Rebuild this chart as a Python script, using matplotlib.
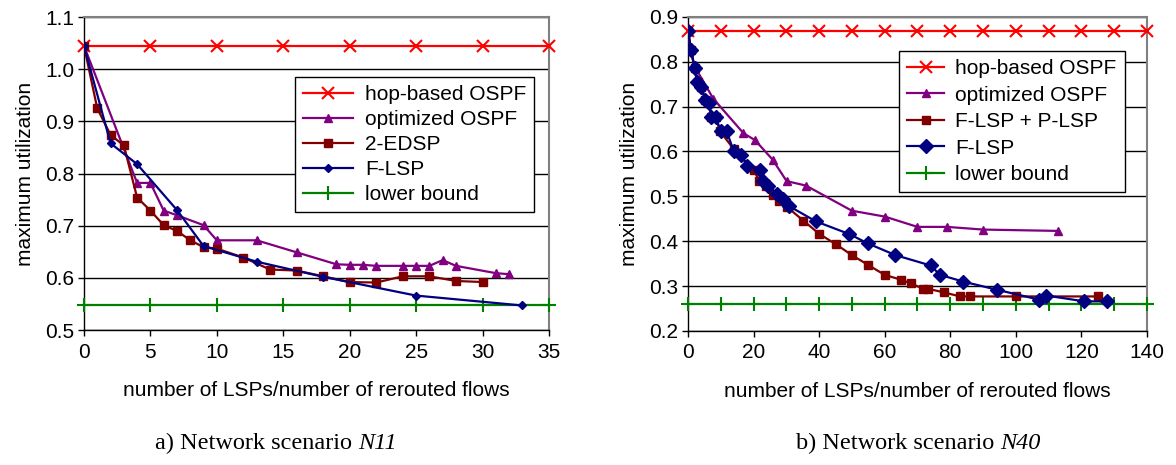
import matplotlib
matplotlib.use("Agg")
import matplotlib.pyplot as plt
import numpy as np

plt.rcParams["font.family"] = ["Liberation Sans", "DejaVu Sans"]

# ---- scenario N11 ----
hop_x_a = [0, 5, 10, 15, 20, 25, 30, 35]
hop_y_a = [1.045] * 8
opt_x_a = [0, 4, 5, 6, 7, 9, 10, 13, 16, 19, 20, 21, 22, 24, 25, 26, 27, 28, 31, 32]
opt_y_a = [1.045, 0.782, 0.782, 0.729, 0.720, 0.701, 0.672, 0.672, 0.649, 0.626,
           0.625, 0.625, 0.623, 0.623, 0.623, 0.623, 0.634, 0.623, 0.609, 0.607]
edsp_x_a = [0, 1, 2, 3, 4, 5, 6, 7, 8, 9, 10, 12, 14, 16, 18, 20, 22, 24, 26, 28, 30]
edsp_y_a = [1.045, 0.925, 0.874, 0.854, 0.754, 0.729, 0.701, 0.690, 0.672, 0.659,
            0.656, 0.639, 0.616, 0.614, 0.603, 0.592, 0.591, 0.603, 0.603, 0.594, 0.592]
flsp_x_a = [0, 2, 4, 7, 9, 13, 18, 25, 33]
flsp_y_a = [1.045, 0.858, 0.818, 0.730, 0.661, 0.631, 0.602, 0.566, 0.547]
low_x_a = [0, 5, 10, 15, 20, 25, 30, 35]
low_y_a = [0.547] * 8

# ---- scenario N40 ----
hop_x_b = list(range(0, 141, 10))
hop_y_b = [0.868] * len(hop_x_b)
opt_x_b = [0, 1, 2, 7.7, 16.9, 20.5, 25.8, 30.1, 36, 50, 60, 70, 79, 90, 113]
opt_y_b = [0.868, 0.82, 0.79, 0.718, 0.641, 0.625, 0.582, 0.534, 0.524, 0.468,
           0.455, 0.432, 0.432, 0.426, 0.423]
pl_x_b = [0, 1, 2, 3, 4, 5.3, 6.5, 7.1, 8.5, 9.8, 14, 20.1, 21.8, 23.8, 26, 27.9, 30.1,
          35.2, 40.1, 45.2, 50, 55, 60, 65.1, 68, 71.8, 73.2, 78.1, 83, 86.1, 100, 125]
pl_y_b = [0.868, 0.826, 0.785, 0.755, 0.743, 0.715, 0.709, 0.676, 0.676, 0.645, 0.605,
          0.558, 0.534, 0.523, 0.504, 0.489, 0.477, 0.446, 0.416, 0.393, 0.369, 0.347,
          0.325, 0.314, 0.306, 0.294, 0.294, 0.286, 0.277, 0.277, 0.277, 0.277]
flsp_x_b = [0, 1, 2, 2.8, 4.1, 5.3, 6.5, 7.1, 8.5, 10, 11.8, 14, 16.1, 18.1, 22, 23,
            24.5, 27.3, 29.1, 30.9, 39.1, 49.2, 54.9, 63.3, 74, 76.9, 84, 94.2, 107,
            109.3, 120.9, 127.8]
flsp_y_b = [0.868, 0.826, 0.785, 0.755, 0.743, 0.715, 0.709, 0.676, 0.676, 0.645, 0.645,
            0.600, 0.593, 0.568, 0.558, 0.534, 0.524, 0.505, 0.495, 0.478, 0.444, 0.416,
            0.395, 0.369, 0.346, 0.325, 0.310, 0.292, 0.270, 0.279, 0.266, 0.266]
low_x_b = list(range(0, 141, 10))
low_y_b = [0.26] * len(low_x_b)

captions = [("a) Network scenario ", "N11"), ("b) Network scenario ", "N40")]

RED = "#ff0000"
PURPLE = "#800080"
DRED = "#800000"
NAVY = "#000080"
GREEN = "#008000"

fig = plt.figure(figsize=(11.76, 4.65), dpi=100)
ax_a = fig.add_axes([0.0714, 0.2903, 0.3954, 0.673])
ax_b = fig.add_axes([0.585, 0.2882, 0.3903, 0.6755])


def style_axes(ax, xlim, ylim, xticks, yticks):
    ax.set_xlim(*xlim)
    ax.set_ylim(*ylim)
    ax.set_xticks(xticks)
    ax.set_yticks(yticks)
    ax.set_yticklabels([f"{v:.1f}" for v in yticks])
    ax.tick_params(direction="out", length=4, width=1, labelsize=15, color="black", pad=3)
    ax.tick_params(axis="x", pad=5)
    ax.yaxis.grid(True, color="black", linewidth=1)
    ax.set_axisbelow(True)
    for s in ["top", "right"]:
        ax.spines[s].set_color("#808080")
        ax.spines[s].set_linewidth(1.5)
    for s in ["left", "bottom"]:
        ax.spines[s].set_color("black")
        ax.spines[s].set_linewidth(1)
    ax.set_ylabel("maximum utilization", fontsize=15, labelpad=7)
    ax.set_xlabel("number of LSPs/number of rerouted flows", fontsize=15, labelpad=14)


lw = 1.6

ax_a.plot(hop_x_a, hop_y_a, color=RED, lw=lw, marker="x", ms=8, mew=1.5, clip_on=False,
          label="hop-based OSPF", zorder=3)
ax_a.plot(opt_x_a, opt_y_a, color=PURPLE, lw=lw, marker="^", ms=6, label="optimized OSPF",
          zorder=4)
ax_a.plot(edsp_x_a, edsp_y_a, color=DRED, lw=lw, marker="s", ms=6, label="2-EDSP", zorder=5)
ax_a.plot(flsp_x_a, flsp_y_a, color=NAVY, lw=lw, marker="D", ms=4, label="F-LSP", zorder=6)
ax_a.plot(low_x_a, low_y_a, color=GREEN, lw=lw, marker="+", ms=10, mew=1.5, clip_on=False,
          label="lower bound", zorder=3)
style_axes(ax_a, (0, 35), (0.5, 1.1), range(0, 36, 5), np.arange(0.5, 1.101, 0.1))

ax_b.plot(hop_x_b, hop_y_b, color=RED, lw=lw, marker="x", ms=8, mew=1.5, clip_on=False,
          label="hop-based OSPF", zorder=3)
ax_b.plot(opt_x_b, opt_y_b, color=PURPLE, lw=lw, marker="^", ms=6,
          markevery=[0] + list(range(3, len(opt_x_b))), label="optimized OSPF", zorder=4)
ax_b.plot(pl_x_b, pl_y_b, color=DRED, lw=lw, marker="s", ms=6, label="F-LSP + P-LSP", zorder=5)
ax_b.plot(flsp_x_b, flsp_y_b, color=NAVY, lw=lw, marker="D", ms=7, label="F-LSP", zorder=6)
ax_b.plot(low_x_b, low_y_b, color=GREEN, lw=lw, marker="+", ms=10, mew=1.5, clip_on=False,
          label="lower bound", zorder=3)
style_axes(ax_b, (0, 140), (0.2, 0.9), range(0, 141, 20), np.arange(0.2, 0.901, 0.1))

for ax, anchor, hl, sp in [(ax_a, (0.454, 0.808), 2.4, 0.28), (ax_b, (0.46, 0.892), 1.75, 0.36)]:
    leg = ax.legend(loc="upper left", bbox_to_anchor=anchor, fontsize=15, frameon=True,
                    fancybox=False, edgecolor="black", framealpha=1, handlelength=hl,
                    borderpad=0.4, labelspacing=sp, handletextpad=0.55, borderaxespad=0)
    leg.get_frame().set_linewidth(1)

# captions: upright serif text followed by italic scenario name, centred as a whole
renderer = fig.canvas.get_renderer()
for (prefix, name), xc in zip(captions, [0.235, 0.781]):
    t1 = fig.text(0, 0.046, prefix, ha="left", va="center", fontsize=17.5,
                  family="Liberation Serif")
    t2 = fig.text(0, 0.046, name, ha="left", va="center", fontsize=17.5,
                  family="Liberation Serif", style="italic")
    w1 = t1.get_window_extent(renderer).width / fig.bbox.width
    w2 = t2.get_window_extent(renderer).width / fig.bbox.width
    x0 = xc - (w1 + w2) / 2
    t1.set_x(x0)
    t2.set_x(x0 + w1)

fig.savefig("out.png", dpi=100)
